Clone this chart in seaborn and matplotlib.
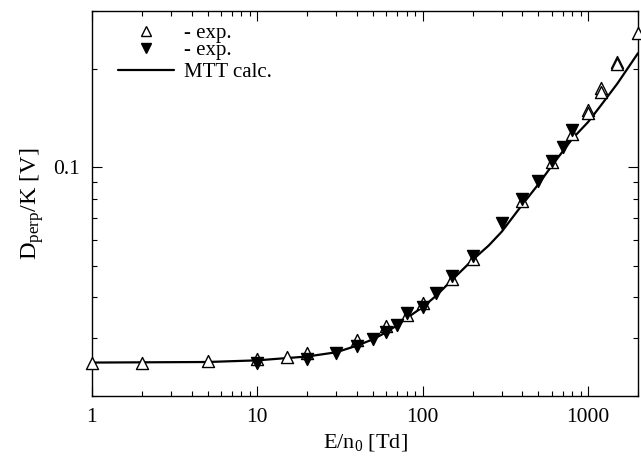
import numpy as np
import pandas as pd
import matplotlib
matplotlib.use("Agg")
import matplotlib.pyplot as plt
import seaborn as sns
from matplotlib.lines import Line2D
from matplotlib.ticker import FixedLocator, NullFormatter, FixedFormatter

# ---- data ----
open_x = [1, 2, 5, 10, 15, 20, 40, 60, 80, 100, 150, 200, 400, 600, 800,
          1000, 1000, 1200, 1200, 1500, 1500, 2000]
open_y = [0.0253, 0.0253, 0.0255, 0.0260, 0.0264, 0.0270, 0.0297, 0.0327,
          0.0354, 0.0384, 0.0457, 0.0523, 0.0786, 0.1036, 0.126,
          0.150, 0.146, 0.175, 0.170, 0.210, 0.206, 0.257]

filled_x = [10, 20, 30, 40, 50, 60, 70, 80, 100, 120, 150, 200, 300, 400,
            500, 600, 700, 800]
filled_y = [0.0252, 0.0260, 0.0270, 0.0285, 0.0299, 0.0314, 0.0329, 0.0359,
            0.0374, 0.0412, 0.0465, 0.0536, 0.0673, 0.0797, 0.0906, 0.1043,
            0.1152, 0.130]

calc_x = [1, 5, 10, 20, 30, 40, 50, 60, 70, 80, 100, 120, 150, 200, 250,
          300, 400, 500, 600, 800, 1000, 1200, 1500, 2000]
calc_y = [0.0253, 0.0254, 0.0257, 0.0264, 0.0272, 0.0285, 0.0298, 0.0313,
          0.0329, 0.0346, 0.0374, 0.0404, 0.0452, 0.0521, 0.0576, 0.0635,
          0.0769, 0.0887, 0.1007, 0.122, 0.1375, 0.155, 0.180, 0.223]

x_ticks = [1, 10, 100, 1000]
x_tick_labels = ["1", "10", "100", "1000"]
y_ticks = [0.1]
y_tick_labels = ["0.1"]
y_minor = [0.02, 0.03, 0.04, 0.05, 0.06, 0.07, 0.08, 0.09, 0.2, 0.3]

labels = ["- exp.", "- exp.", "MTT calc."]

# ---- style ----
sns.set_theme(style="ticks")
plt.rcParams["font.family"] = ["Liberation Serif", "DejaVu Serif"]
plt.rcParams["mathtext.fontset"] = "custom"
plt.rcParams["mathtext.rm"] = "Liberation Serif"
plt.rcParams["mathtext.it"] = "Liberation Serif:italic"
plt.rcParams["text.color"] = "black"
plt.rcParams["axes.labelcolor"] = "black"
plt.rcParams["xtick.color"] = "black"
plt.rcParams["ytick.color"] = "black"

fig = plt.figure(figsize=(6.41, 4.59), dpi=100)
ax = fig.add_axes([0.1435, 0.1373, 0.8518, 0.8387])

df_calc = pd.DataFrame({"x": calc_x, "y": calc_y})
df_open = pd.DataFrame({"x": open_x, "y": open_y})
df_fill = pd.DataFrame({"x": filled_x, "y": filled_y})

sns.lineplot(data=df_calc, x="x", y="y", ax=ax, color="black", lw=1.6,
             estimator=None, sort=True)
sns.scatterplot(data=df_open, x="x", y="y", ax=ax, marker="^", s=75,
                facecolor="white", edgecolor="black", linewidth=1.0,
                clip_on=False, zorder=3)
sns.scatterplot(data=df_fill, x="x", y="y", ax=ax, marker="v", s=75,
                color="black", edgecolor="black", linewidth=1.0,
                clip_on=False, zorder=4)

ax.set_xscale("log")
ax.set_yscale("log")
ax.set_xlim(1, 2000)
ax.set_ylim(0.02, 0.3)

ax.xaxis.set_major_locator(FixedLocator(x_ticks))
ax.xaxis.set_major_formatter(FixedFormatter(x_tick_labels))
ax.yaxis.set_major_locator(FixedLocator(y_ticks))
ax.yaxis.set_major_formatter(FixedFormatter(y_tick_labels))
ax.yaxis.set_minor_locator(FixedLocator(y_minor))
ax.yaxis.set_minor_formatter(NullFormatter())
ax.xaxis.set_minor_formatter(NullFormatter())

ax.tick_params(which="both", direction="in", top=True, right=True,
               labelsize=15.5, width=0.8, colors="black", labelcolor="black")
ax.tick_params(which="major", length=7, pad=9)
ax.tick_params(which="minor", length=3.5)
for sp in ax.spines.values():
    sp.set_visible(True)
    sp.set_linewidth(1.0)
    sp.set_color("black")

ax.set_xlabel(r"E/n$_{\rm 0}$ [Td]", fontsize=16, labelpad=3, color="black")
ax.set_ylabel(r"D$_{\rm perp}$/K [V]", fontsize=17.5, labelpad=5, color="black")

h_open = Line2D([], [], ls="", marker="^", ms=6.5, mfc="white", mec="black", mew=1.0)
h_fill = Line2D([], [], ls="", marker="v", ms=6.5, mfc="black", mec="black", mew=1.0)
h_line = Line2D([], [], color="black", lw=1.6)

leg1 = ax.legend([h_open, h_fill], labels[:2], loc="upper left", frameon=False,
                 fontsize=15, handlelength=2.7, handletextpad=0.5,
                 labelspacing=-0.12, borderaxespad=0.0, borderpad=0.0,
                 bbox_to_anchor=(0.047, 0.968))
ax.add_artist(leg1)
ax.legend([h_line], labels[2:], loc="upper left", frameon=False,
          fontsize=15, handlelength=2.7, handletextpad=0.5,
          borderaxespad=0.0, borderpad=0.0,
          bbox_to_anchor=(0.047, 0.866))

fig.savefig("out.png", dpi=100)
